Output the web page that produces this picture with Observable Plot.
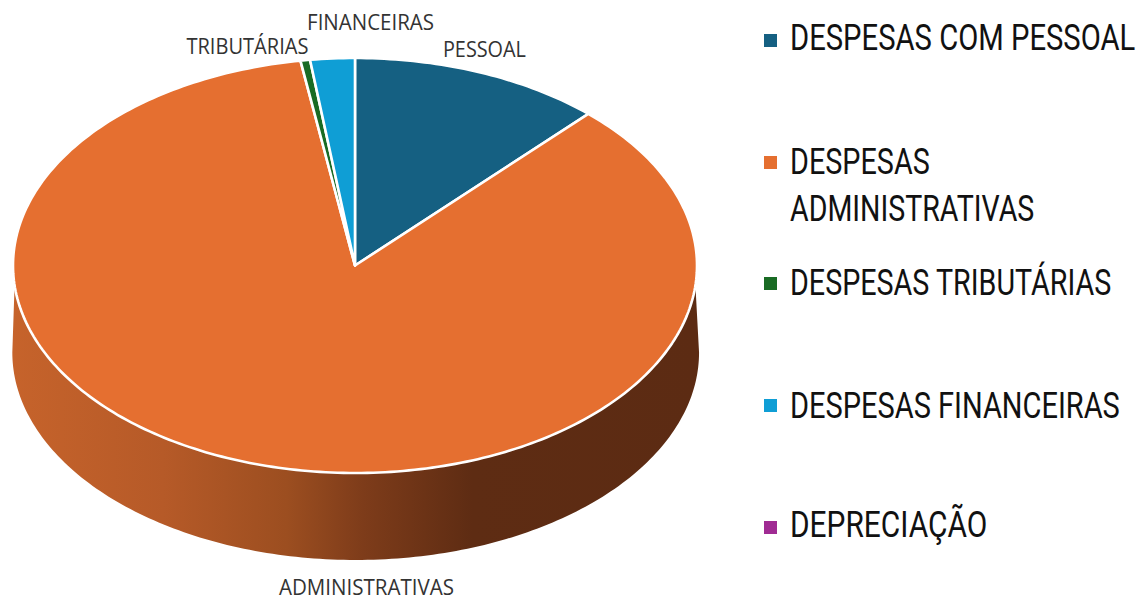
<!DOCTYPE html>
<html lang="pt">
<head>
<meta charset="utf-8">
<script src="https://cdn.jsdelivr.net/npm/d3@7"></script>
<script src="https://cdn.jsdelivr.net/npm/@observablehq/plot@0.6"></script>
<style>
  html, body { margin: 0; padding: 0; background: #fff; }
  #page { position: relative; width: 1140px; height: 600px; overflow: hidden; }
  #chart { position: absolute; left: 0; top: 0; }
  .row { position: absolute; left: 764px; height: 0; }
  .sw { position: absolute; left: 0; top: -6.5px; width: 13px; height: 13px; }
  .lb { position: absolute; left: 25.5px; top: -23px; line-height: 46px; white-space: nowrap;
        font-family: Roboto, sans-serif; font-size: 37px; color: #111; transform-origin: 0 50%; }
</style>
</head>
<body>
<div id="page"><div id="chart"></div></div>
<script>
// Data
const categories = ["PESSOAL", "ADMINISTRATIVAS", "TRIBUTÁRIAS", "FINANCEIRAS", "DEPRECIAÇÃO"];
const values = [11.95, 85.5, 0.45, 2.1, 0];
const colors = ["#156082", "#E56F30", "#196B24", "#0F9ED5", "#A02B93"];
const legendNames = ["DESPESAS COM PESSOAL", "DESPESAS\nADMINISTRATIVAS", "DESPESAS TRIBUTÁRIAS", "DESPESAS FINANCEIRAS", "DEPRECIAÇÃO"];

// Layout (unit-ellipse coordinates and pixels)
const labelText = ["FINANCEIRAS", "TRIBUTÁRIAS", "PESSOAL", "ADMINISTRATIVAS"];
const labelX = [0.044, -0.316, 0.377, 0.032];
const labelY = [1.171, 1.055, 1.04, -1.552];
const labelW = [127, 122, 83, 175];
const depth = 87 / 207.5;
const legendY = [40, 162, 283, 405, 527];
const legendTextShift = [0, 2, 2, 3, 0];
const legendW = [[345], [140, 244], [321], [330], [197]];

// Angles
const arcs = d3.pie().sort(null).value(d => d)(values);
const step = Math.PI / 180;
const wedges = [];
arcs.forEach((a, i) => {
  const n = Math.max(1, Math.ceil((a.endAngle - a.startAngle) / step));
  if (a.endAngle === a.startAngle) return;
  for (let k = 0; k <= n; k++) {
    const t = a.startAngle + (a.endAngle - a.startAngle) * k / n;
    wedges.push({cat: categories[i], x1: 0, y1: 0, x2: Math.sin(t), y2: Math.cos(t)});
  }
});
const wall = d3.range(0, 181).map(k => {
  const tb = Math.PI / 2 + k * step;
  const tt = (95.5 + k * (169 / 180)) * step;
  return {x1: Math.sin(tt), y1: Math.cos(tt), x2: 1.004 * Math.sin(tb) + 0.002, y2: Math.cos(tb) - depth};
});
const labels = labelText.map((t, i) => ({t, x: labelX[i], y: labelY[i]}));

const plot = Plot.plot({
  width: 750, height: 600,
  marginTop: 0, marginRight: 0, marginBottom: 0, marginLeft: 0,
  x: {domain: [-1, 1], range: [13, 697], axis: null},
  y: {domain: [-1, 1], range: [473, 58], axis: null},
  color: {domain: categories, range: colors},
  marks: [
    Plot.area(wall, {x1: "x1", y1: "y1", x2: "x2", y2: "y2", fill: "url(#sideGrad)"}),
    Plot.area(wedges, {x1: "x1", y1: "y1", x2: "x2", y2: "y2", z: "cat", fill: "cat", stroke: "#fff", strokeWidth: 2.6, strokeLinejoin: "round"}),
    Plot.text(labels, {x: "x", y: "y", text: "t", fill: "#333", fontSize: 21, fontFamily: "'Open Sans', sans-serif", textAnchor: "middle"})
  ]
});
plot.setAttribute("style", "background:#fff");
const svg = d3.select(plot);
const defs = svg.insert("defs", ":first-child");
const grad = defs.append("linearGradient").attr("id", "sideGrad")
  .attr("gradientUnits", "userSpaceOnUse").attr("x1", 12).attr("x2", 699).attr("y1", 0).attr("y2", 0);
[[0, "#C6632B"], [0.22, "#B65A28"], [0.40, "#9C4E20"], [0.51, "#7E3C1A"], [0.67, "#5E2C13"], [1, "#5C2B13"]]
  .forEach(([o, c]) => grad.append("stop").attr("offset", o).attr("stop-color", c));
svg.selectAll("text").each(function () {
  const i = labelText.indexOf(this.textContent);
  if (i >= 0) { this.setAttribute("textLength", labelW[i]); this.setAttribute("lengthAdjust", "spacingAndGlyphs"); }
});
document.getElementById("chart").append(plot);

// Legend
const page = document.getElementById("page");
legendNames.forEach((name, i) => {
  const row = document.createElement("div");
  row.className = "row";
  row.style.top = legendY[i] + "px";
  page.append(row);
  const sw = document.createElement("div");
  sw.className = "sw";
  sw.style.background = colors[i];
  row.append(sw);
  name.split("\n").forEach((line, j) => {
    const lb = document.createElement("div");
    lb.className = "lb";
    lb.textContent = line;
    lb.style.top = (-25 + legendTextShift[i] + j * 47) + "px";
    row.append(lb);
    lb.style.transform = `scaleX(${legendW[i][j] / lb.offsetWidth})`;
  });
});
</script>
</body>
</html>
